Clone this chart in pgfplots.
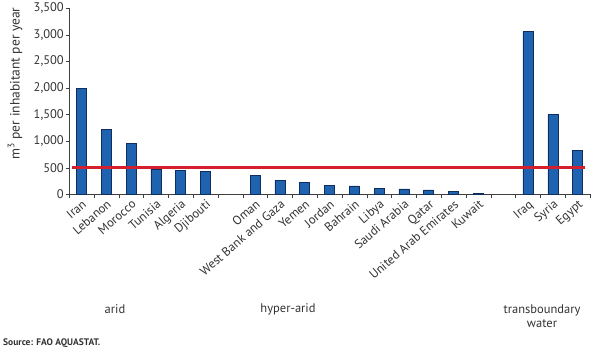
\documentclass[border=0pt]{standalone}
\usepackage{fontspec}
\setmainfont{PT Sans}
\usepackage{pgfplots}
\pgfplotsset{compat=1.18}
\definecolor{barblue}{HTML}{1E62B0}
\definecolor{bardraw}{HTML}{0E2F5E}
\definecolor{linered}{HTML}{D41F2E}
\definecolor{txt}{HTML}{333333}
\begin{document}
\begin{tikzpicture}[x=1pt,y=1pt]
\path[use as bounding box] (0,0) rectangle (600,351);
\begin{axis}[
  at={(69pt,156.7pt)}, anchor=south west,
  width=521pt, height=186pt, scale only axis,
  xmin=-0.5, xmax=20.5, ymin=0, ymax=3500,
  axis x line=bottom, axis y line=left,
  axis line style={-, draw=black!75},
  xtick={0,...,20},
  xticklabels={Iran,Lebanon,Morocco,Tunisia,Algeria,Djibouti,,Oman,West Bank and Gaza,Yemen,Jordan,Bahrain,Libya,Saudi Arabia,Qatar,United Arab Emirates,Kuwait,,Iraq,Syria,Egypt},
  minor xtick={-0.5,0.5,...,20.5},
  major x tick style={draw=none},
  minor x tick style={draw=black!75},
  minor tick length=4pt,
  tick align=outside,
  ytick={0,500,...,3500},
  major tick length=3pt,
  y tick style={draw=black!75},
  /pgf/number format/assume math mode=true,
  yticklabel style={/pgf/number format/1000 sep={,}, font=\fontsize{12.5}{13}\selectfont, text=txt, inner sep=2pt},
  xticklabel style={rotate=41, anchor=north east, inner sep=1pt, font=\fontsize{12.5}{13}\selectfont, text=txt},
  clip=false,
]
\addplot[ybar, bar width=10pt, fill=barblue, draw=bardraw, line width=0.5pt] coordinates {
(0,2000) (1,1220) (2,960) (3,480) (4,455) (5,425)
(7,350) (8,262) (9,218) (10,162) (11,160) (12,113) (13,100) (14,81) (15,56) (16,20)
(18,3060) (19,1500) (20,820)};
\addplot[linered, line width=2.5pt] coordinates {(-0.38,500) (20.3,500)};
\end{axis}
\node[rotate=90, text=txt, font=\fontsize{13.5}{14}\selectfont] at (15,267.5) {m\textsuperscript{3} per inhabitant per year};
\node[text=txt, font=\fontsize{12.5}{13}\selectfont] at (115,42) {arid};
\node[text=txt, font=\fontsize{12.5}{13}\selectfont] at (288,42) {hyper-arid};
\node[text=txt, font=\fontsize{12.5}{14.5}\selectfont, align=center] at (542,35) {transboundary\\water};
\node[anchor=west, inner sep=0pt, font=\bfseries\fontsize{9.5}{10}\selectfont, text=txt] at (3,8) {Source: FAO AQUASTAT.};
\end{tikzpicture}
\end{document}
